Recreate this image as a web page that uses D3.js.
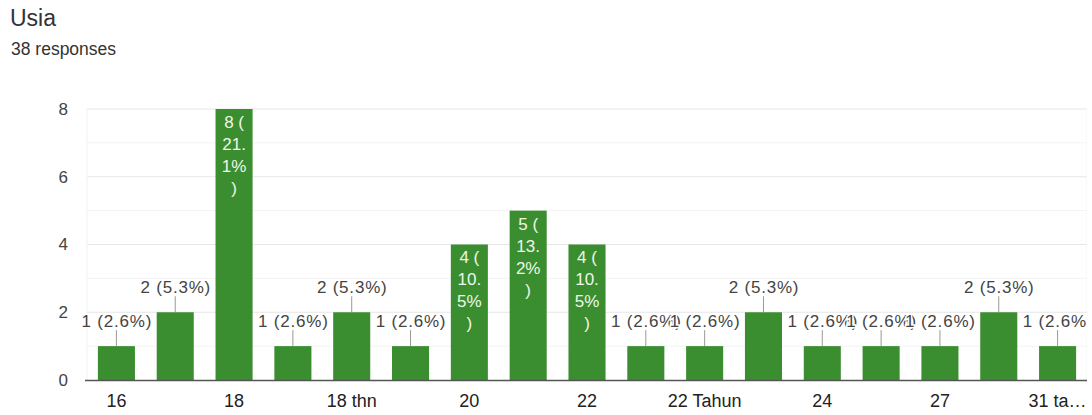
<!DOCTYPE html>
<html><head><meta charset="utf-8">
<script src="https://cdn.jsdelivr.net/npm/d3@7"></script>
<style>body{margin:0;background:#fff;font-family:"Liberation Sans",Arial,sans-serif}</style>
</head><body>
<svg id="c" width="1092" height="415"></svg>
<script>
const categories = ["16","17","18","18 tahun","18 thn","19","20","21","22","22 tahun","22 Tahun","23","24","25","27","28","31 tahun"];
const values = [1,2,8,1,2,1,4,5,4,1,1,2,1,1,1,2,1];
const yTicks = [0,2,4,6,8];
const xTickLabels = {0:"16",2:"18",4:"18 thn",6:"20",8:"22",10:"22 Tahun",12:"24",14:"27",16:"31 ta\u2026"};
const total = 38;

const svg = d3.select("#c");
const L = 87, R = 1087, T = 109, B = 380;
const x = d3.scaleBand().domain(d3.range(categories.length)).range([L, R]).paddingInner(0.37).paddingOuter(0.185);
const y = d3.scaleLinear().domain([0, 8]).range([B, T]);

svg.append("text").attr("x", 10).attr("y", 26).attr("font-size", 23).attr("fill", "#333").text("Usia");
svg.append("text").attr("x", 11).attr("y", 55).attr("font-size", 17.5).attr("fill", "#333").text(total + " responses");

const defs = svg.append("defs");
defs.append("clipPath").attr("id", "clip").append("rect").attr("x", 0).attr("y", 0).attr("width", 1087).attr("height", 415);
const g = svg.append("g").attr("clip-path", "url(#clip)");

// minor gridlines
g.selectAll(".minor").data([1,3,5,7]).join("line")
  .attr("x1", L).attr("x2", R + 1).attr("y1", d => y(d)).attr("y2", d => y(d))
  .attr("stroke", "#f3f3f3").attr("stroke-width", 1);
g.selectAll(".major").data(yTicks.slice(1)).join("line")
  .attr("x1", L).attr("x2", R + 1).attr("y1", d => y(d)).attr("y2", d => y(d))
  .attr("stroke", "#e6e6e6").attr("stroke-width", 1);
[L, R].forEach(v => g.append("line").attr("x1", v).attr("x2", v).attr("y1", T).attr("y2", B).attr("stroke", "#f2f2f2"));

// y labels
svg.selectAll(".yl").data(yTicks).join("text")
  .attr("x", 68).attr("y", d => y(d)).attr("dy", "0.35em").attr("text-anchor", "end")
  .attr("font-size", 17).attr("fill", "#444").text(d => d);

// bars
g.selectAll(".bar").data(values).join("rect")
  .attr("x", (d, i) => x(i)).attr("width", x.bandwidth())
  .attr("y", d => y(d)).attr("height", d => B - y(d))
  .attr("fill", "#3b8e2f");

// axis
g.append("line").attr("x1", L - 2).attr("x2", R + 1).attr("y1", B + 0.5).attr("y2", B + 0.5).attr("stroke", "#555").attr("stroke-width", 1.5);

// x labels
svg.selectAll(".xl").data(Object.keys(xTickLabels)).join("text")
  .attr("x", d => x(+d) + x.bandwidth() / 2).attr("y", 407).attr("text-anchor", "middle")
  .attr("font-size", 18).attr("fill", "#222").text(d => xTickLabels[d]);

// labels
values.forEach((v, i) => {
  const pct = (v / total * 100).toFixed(1);
  const cx = x(i) + x.bandwidth() / 2;
  if (v >= 4) {
    const lines = [v + " (", pct.slice(0, pct.indexOf(".") + 1), pct.slice(pct.indexOf(".") + 1) + "%", ")"];
    lines.forEach((ln, k) => {
      g.append("text").attr("x", cx).attr("y", y(v) + 13 + k * 22).attr("dy", "0.35em")
        .attr("text-anchor", "middle").attr("font-size", 17).attr("fill", "#eef7ea").text(ln);
    });
  } else {
    g.append("line").attr("x1", cx).attr("x2", cx).attr("y1", y(v)).attr("y2", y(v) - 16)
      .attr("stroke", "#999").attr("stroke-width", 1);
  }
});
values.forEach((v, i) => {
  if (v >= 4) return;
  const pct = (v / total * 100).toFixed(1);
  const cx = x(i) + x.bandwidth() / 2;
  g.append("text").attr("x", cx + 0.5).attr("y", y(v) - 25).attr("dy", "0.35em")
    .attr("text-anchor", "middle").attr("font-size", 17).attr("fill", "#444")
    .attr("letter-spacing", 0.8)
    .attr("stroke", "#fff").attr("stroke-width", 3).attr("paint-order", "stroke")
    .text(v + " (" + pct + "%)");
});
</script>
</body></html>
